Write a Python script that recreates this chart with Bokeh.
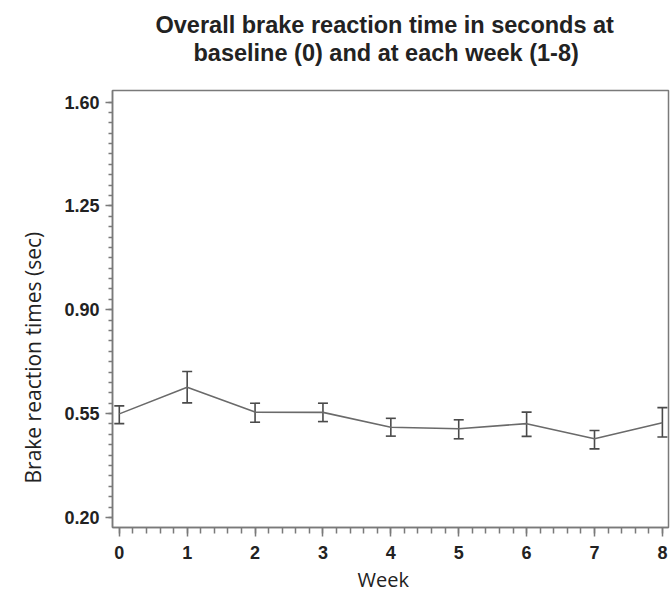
import numpy as np
from bokeh.plotting import figure
from bokeh.models import ColumnDataSource, Whisker, TeeHead, FixedTicker, NumeralTickFormatter, Title, Range1d
from bokeh.embed import file_html
from bokeh.resources import INLINE

weeks = [0, 1, 2, 3, 4, 5, 6, 7, 8]
mean_rt = [0.549, 0.639, 0.555, 0.554, 0.504, 0.499, 0.516, 0.465, 0.519]
upper_rt = [0.576, 0.692, 0.585, 0.585, 0.534, 0.529, 0.555, 0.493, 0.570]
lower_rt = [0.516, 0.586, 0.521, 0.523, 0.474, 0.465, 0.473, 0.431, 0.471]
y_ticks = [0.20, 0.55, 0.90, 1.25, 1.60]
x_ticks = [0, 1, 2, 3, 4, 5, 6, 7, 8]

src = ColumnDataSource(dict(week=weeks, mean=mean_rt, upper=upper_rt, lower=lower_rt))

GRAY = "#7a7a7a"
TXT = "#222222"
p = figure(width=670, height=597, output_backend="svg", toolbar_location=None,
           x_range=Range1d(-0.1, 8.09), y_range=Range1d(0.166, 1.639),
           min_border_left=112, min_border_right=2, min_border_top=90, min_border_bottom=70)
p.xgrid.visible = False
p.ygrid.visible = False
p.outline_line_color = GRAY
p.outline_line_width = 1.5

p.line("week", "mean", source=src, line_color="#6a6a6a", line_width=1.6)
w = Whisker(base="week", upper="upper", lower="lower", source=src,
            line_color="#4a4a4a", line_width=1.6,
            upper_head=TeeHead(size=10, line_color="#4a4a4a", line_width=1.6),
            lower_head=TeeHead(size=10, line_color="#4a4a4a", line_width=1.6))
p.add_layout(w)

minor_y = [round(v, 4) for v in np.arange(y_ticks[0], y_ticks[-1] + 1e-9, 0.035)]
minor_x = [round(v, 4) for v in np.arange(x_ticks[0], x_ticks[-1] + 1e-9, 0.2)]
p.yaxis.ticker = FixedTicker(ticks=y_ticks, minor_ticks=minor_y)
p.xaxis.ticker = FixedTicker(ticks=x_ticks, minor_ticks=minor_x)
p.yaxis.formatter = NumeralTickFormatter(format="0.00")

for ax in (p.xaxis[0], p.yaxis[0]):
    ax.axis_line_color = GRAY
    ax.axis_line_width = 1.5
    ax.major_tick_line_color = GRAY
    ax.minor_tick_line_color = GRAY
    ax.major_tick_line_width = 1.5
    ax.minor_tick_line_width = 1.5
    ax.major_tick_in = 0
    ax.minor_tick_in = 0
    ax.major_label_text_font = "Liberation Sans"
    ax.major_label_text_font_style = "bold"
    ax.major_label_text_font_size = "18px"
    ax.major_label_text_color = TXT

p.xaxis.major_tick_out = 9
p.xaxis.minor_tick_out = 6
p.yaxis.major_tick_out = 7
p.yaxis.minor_tick_out = 4
p.xaxis.major_label_standoff = 9
p.yaxis.major_label_standoff = 6

# axis titles (off-centre, as in the reference)
p.add_layout(Title(text="Week", align="left", offset=245, standoff=4,
                   text_font="Open Sans", text_font_size="20px", text_font_style="normal",
                   text_color=TXT), "below")
p.add_layout(Title(text="Brake reaction times (sec)", align="left", offset=44, standoff=30,
                   text_font="Open Sans", text_font_size="21px", text_font_style="normal",
                   text_color=TXT), "left")

spacer = Title(text=" ", text_font_size="2px", standoff=21)
t2 = Title(text="baseline (0) and at each week (1-8)", align="left", offset=81, standoff=0,
           text_font="Liberation Sans", text_font_size="23.5px", text_font_style="bold",
           text_color=TXT)
t1 = Title(text="Overall brake reaction time in seconds at", align="left", offset=43, standoff=0,
           text_font="Liberation Sans", text_font_size="23.5px", text_font_style="bold",
           text_color=TXT)
p.add_layout(spacer, "above")
p.add_layout(t2, "above")
p.add_layout(t1, "above")

open("out.html", "w").write(file_html(p, INLINE))
